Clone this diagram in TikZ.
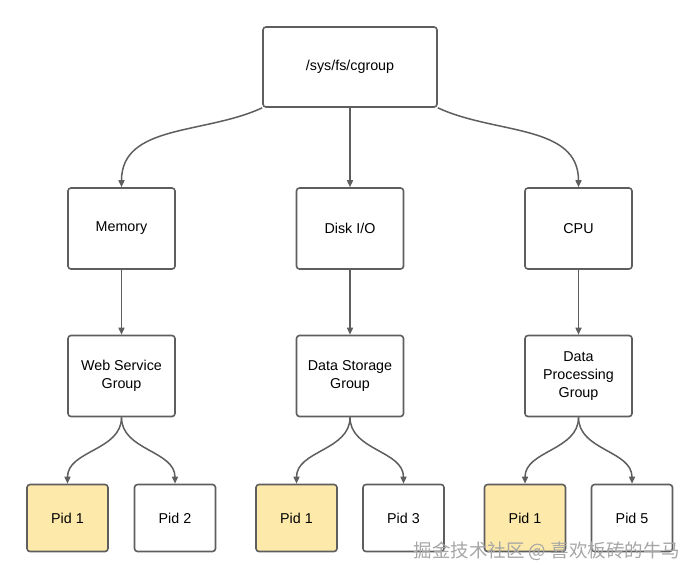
\documentclass[tikz,border=0pt]{standalone}
\usepackage{fontspec}
\setmainfont{Liberation Sans}
\newfontfamily\cjk{Noto Sans CJK SC}
\usetikzlibrary{arrows.meta}
\definecolor{edge}{HTML}{5E5E5E}
\definecolor{pidyellow}{HTML}{FDE9A9}
\begin{document}
\begin{tikzpicture}[x=1pt,y=-1pt,
  box/.style={draw=edge,line width=1.6pt,rounded corners=3pt,fill=white,align=center,
    font=\fontsize{14.3}{18}\selectfont,inner sep=0pt},
  lvl/.style={box,minimum width=107pt,minimum height=81pt},
  pidbox/.style={box,minimum width=81pt,minimum height=67pt},
  yel/.style={fill=pidyellow},
  conn/.style={draw=edge,line width=1.5pt,-{Triangle[length=7pt,width=6pt]}}]
\useasboundingbox (0,0) rectangle (700,579);
\node[box,minimum width=174pt,minimum height=80pt] (root) at (350,67) {/sys/fs/cgroup};
\node[lvl] (mem) at (121.5,228.5) {Memory};
\node[lvl] (disk) at (350,228.5) {Disk I/O};
\node[lvl] (cpu) at (578.5,228.5) {CPU};
\node[lvl] (web) at (121.5,376) {Web Service\\Group};
\node[lvl] (ds) at (350,376) {Data Storage\\Group};
\node[lvl] (dp) at (578.5,376) {Data\\Processing\\Group};
\node[pidbox,yel] (p1a) at (67.5,518) {Pid 1};
\node[pidbox] (p2) at (175,518) {Pid 2};
\node[pidbox,yel] (p1b) at (296.5,518) {Pid 1};
\node[pidbox] (p3) at (403.5,518) {Pid 3};
\node[pidbox,yel] (p1c) at (525,518) {Pid 1};
\node[pidbox] (p5) at (632,518) {Pid 5};
\draw[conn] (root.south west) to[out=205,in=90] (mem.north);
\draw[conn] (root.south) -- (disk.north);
\draw[conn] (root.south east) to[out=-25,in=90] (cpu.north);
\draw[conn] (mem) -- (web);
\draw[conn] (disk) -- (ds);
\draw[conn] (cpu) -- (dp);
\foreach \a/\b in {web/p1a,web/p2,ds/p1b,ds/p3,dp/p1c,dp/p5}
  \draw[conn] (\a.south) to[out=-90,in=90] (\b.north);
\node[font=\cjk\fontsize{18.5}{21}\selectfont,text=gray!70,inner sep=0pt] (wm) at (547,551) {掘金技术社区 @ 喜欢板砖的牛马};
\end{tikzpicture}
\end{document}
